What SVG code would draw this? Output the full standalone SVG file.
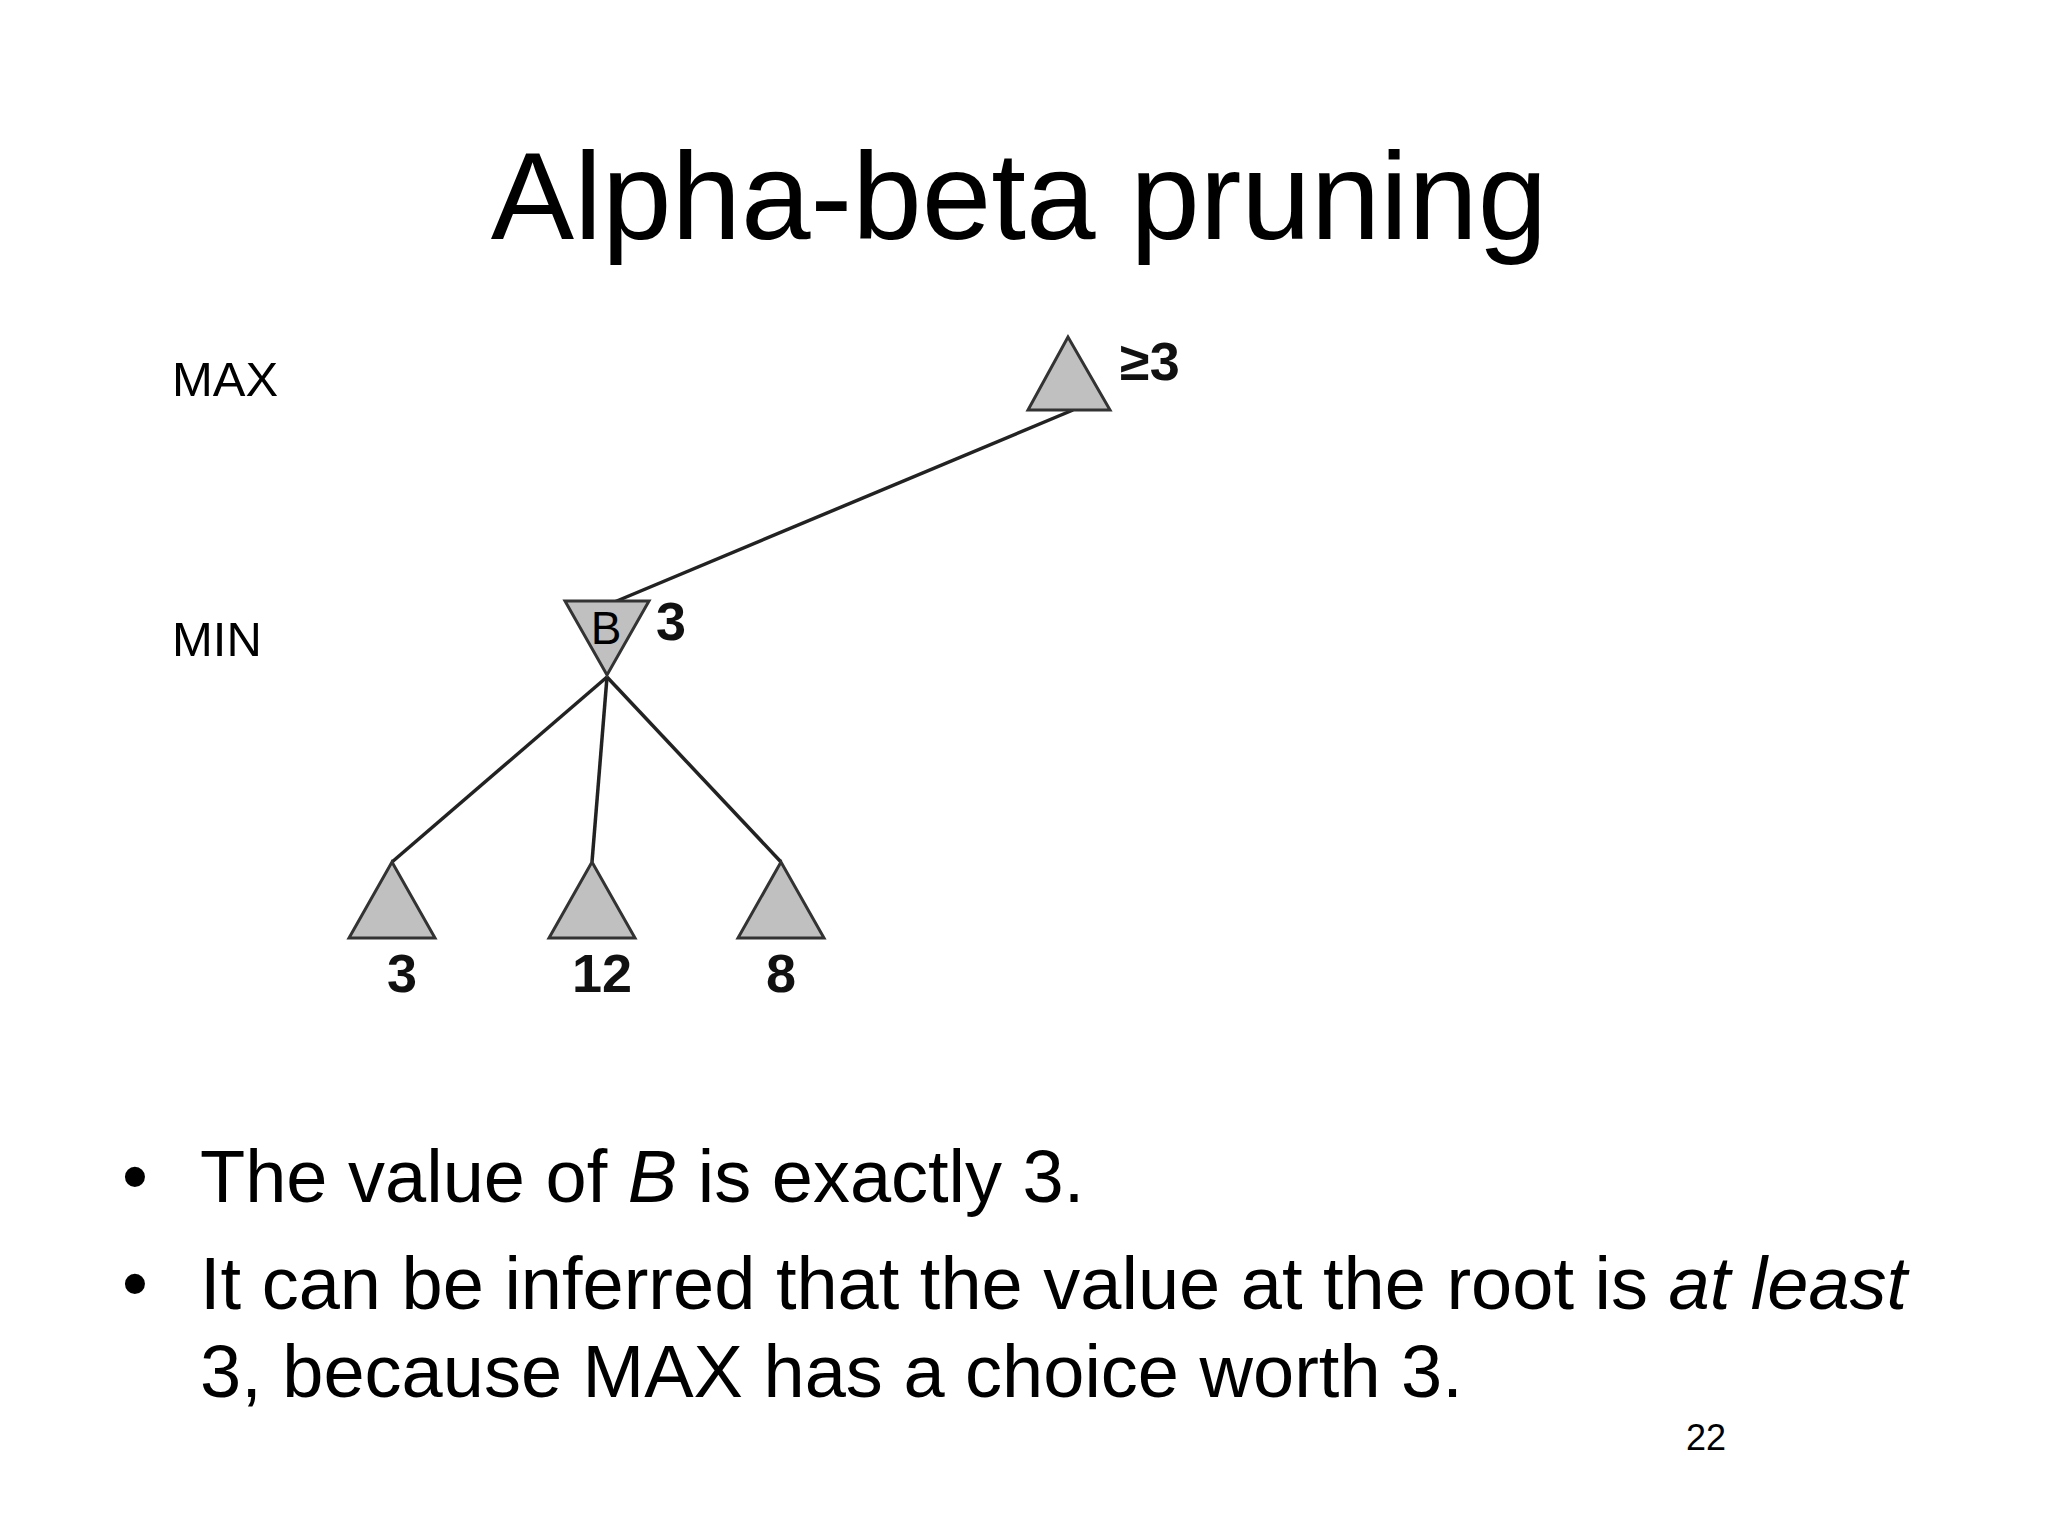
<svg xmlns="http://www.w3.org/2000/svg" width="2048" height="1536" viewBox="0 0 2048 1536">
<style>
.t{font-family:"Liberation Sans",Arial,sans-serif;fill:#000}
.n{fill:#c0c0c0;stroke:#333;stroke-width:3}
.lbl{font-family:"Liberation Sans",Arial,sans-serif;font-weight:bold;font-size:54px;fill:#111}
.e{stroke:#222;stroke-width:3.5;fill:none}
</style>
<rect width="2048" height="1536" fill="#fff"/>
<text class="t" x="1019" y="239" font-size="125" text-anchor="middle">Alpha-beta pruning</text>
<text class="t" x="172" y="396" font-size="49" fill="#333">MAX</text>
<text class="t" x="172" y="656" font-size="49" fill="#333">MIN</text>
<g id="connectors">
<line class="e" x1="1073" y1="410" x2="612" y2="603"/>
<line class="e" x1="607" y1="677" x2="392" y2="862"/>
<line class="e" x1="607" y1="677" x2="592" y2="862"/>
<line class="e" x1="607" y1="677" x2="781" y2="862"/>
</g>
<g id="root"><polygon class="n" points="1068,337 1028,410 1110,410"/><text class="lbl" x="1120" y="380">≥3</text></g>
<g id="B"><polygon class="n" points="565,601 649,601 607,675"/><text class="t" x="606" y="644" font-size="46" text-anchor="middle">B</text><text class="lbl" x="656" y="640">3</text></g>
<g id="leaf1"><polygon class="n" points="392,862 349,938 435,938"/><text class="lbl" x="402" y="992" text-anchor="middle">3</text></g>
<g id="leaf2"><polygon class="n" points="592,862 549,938 635,938"/><text class="lbl" x="602" y="992" text-anchor="middle">12</text></g>
<g id="leaf3"><polygon class="n" points="781,862 738,938 824,938"/><text class="lbl" x="781" y="992" text-anchor="middle">8</text></g>
<g class="t" font-size="74">
<text x="122" y="1202">•</text>
<text x="200" y="1202">The value of <tspan font-style="italic">B</tspan> is exactly 3.</text>
<text x="122" y="1309">•</text>
<text x="200" y="1309">It can be inferred that the value at the root is <tspan font-style="italic">at least</tspan></text>
<text x="200" y="1397">3, because MAX has a choice worth 3.</text>
</g>
<text class="t" x="1706" y="1450" font-size="36" text-anchor="middle">22</text>
</svg>
